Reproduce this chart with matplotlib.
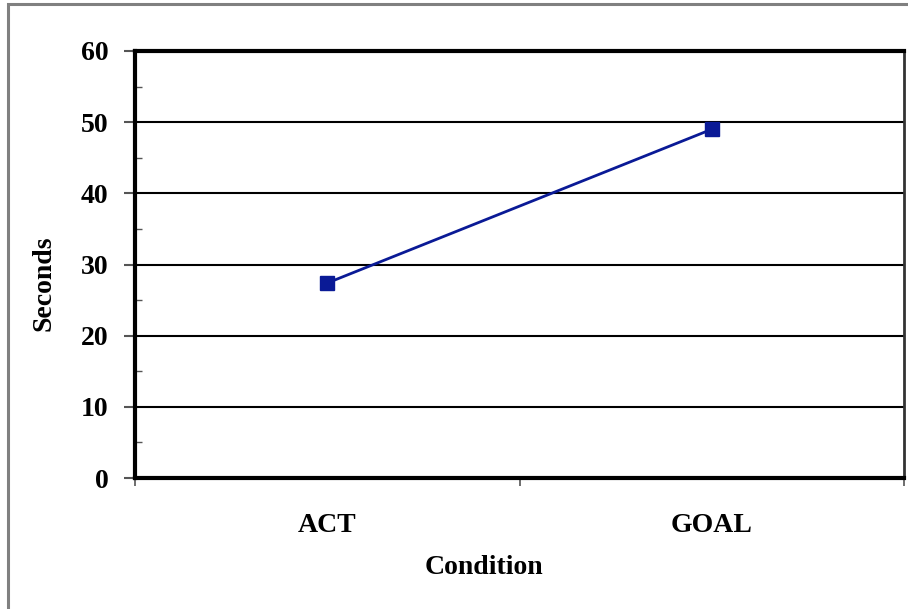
import matplotlib
matplotlib.use("Agg")
import matplotlib.pyplot as plt
from matplotlib.patches import Rectangle
from matplotlib.ticker import MultipleLocator

categories = ["ACT", "GOAL"]
values = [27.4, 49.0]
yticks = [0, 10, 20, 30, 40, 50, 60]

W, H = 908, 609
fig = plt.figure(figsize=(W/100, H/100), dpi=100)
fig.patch.set_facecolor("white")

# outer gray frame (top and left visible)
fig.add_artist(Rectangle((7.5/W, -0.1), 1.2, 1.1 - 4.5/H, transform=fig.transFigure,
                         fill=False, edgecolor="#808080", linewidth=2.2, clip_on=False))

l, r, t, b = 135, 904, 51, 478
ax = fig.add_axes([l/W, 1 - b/H, (r-l)/W, (b-t)/H])

xs = [0.5 + i for i in range(len(categories))]
ax.plot(xs, values, color="#0a1a96", linewidth=2, marker="s", markersize=10,
        markeredgecolor="#0a1a96", zorder=5)

ax.set_xlim(0, len(categories))
ax.set_ylim(0, 60)
ax.set_yticks(yticks)
ax.yaxis.set_minor_locator(MultipleLocator(5))
ax.set_xticks(range(len(categories) + 1))
ax.set_xticklabels([])
ax.set_xticks(xs, minor=True)
ax.set_xticklabels(categories, minor=True)

ax.grid(axis="y", which="major", color="black", linewidth=1.5)
ax.set_axisbelow(True)

fs = 20
font = dict(family="Liberation Serif", weight="bold", size=fs)
for lab in ax.get_yticklabels():
    lab.set_fontfamily("Liberation Serif"); lab.set_fontweight("bold"); lab.set_fontsize(fs)
for lab in ax.get_xticklabels(minor=True):
    lab.set_fontfamily("Liberation Serif"); lab.set_fontweight("bold"); lab.set_fontsize(fs)

ax.tick_params(axis="y", which="major", direction="out", length=8, width=1.5, color="#555555", pad=11)
ax.tick_params(axis="y", which="minor", direction="in", length=5, width=1, color="#555555")
ax.tick_params(axis="x", which="major", direction="out", length=6, width=1.2, color="#555555")
ax.tick_params(axis="x", which="minor", length=0, pad=25)

for s in ["top", "bottom", "left"]:
    ax.spines[s].set_linewidth(3)
    ax.spines[s].set_color("black")
ax.spines["right"].set_linewidth(2)
ax.spines["right"].set_color("#333333")

fig.text(484/W, 1 - 567/H, "Condition", ha="center", va="center", fontdict=font)
ax.set_ylabel("Seconds", fontdict=font)
ax.yaxis.set_label_coords((56 - l)/(r - l), 0.5 - (283 - (t+b)/2)/(b - t))

fig.savefig("out.png", dpi=100)
